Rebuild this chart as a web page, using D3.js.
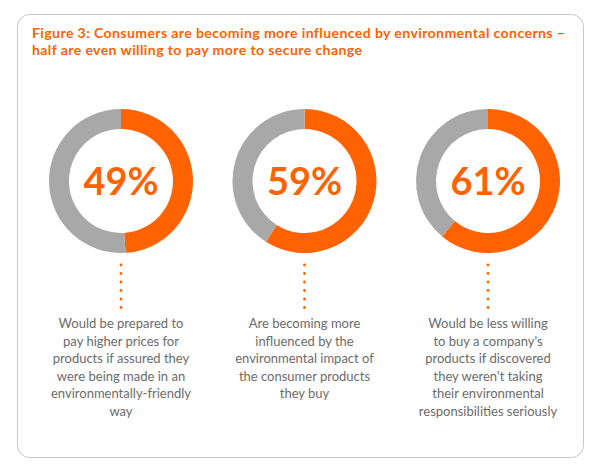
<!DOCTYPE html>
<html><head><meta charset="utf-8">
<script src="https://cdn.jsdelivr.net/npm/d3@7"></script>
<style>body{margin:0;background:#fff}svg{display:block}</style>
</head><body><svg id="c" width="600" height="473"></svg>
<script>
const titleLines = ["Figure 3: Consumers are becoming more influenced by environmental concerns –",
  "half are even willing to pay more to secure change"];
const categories = ["pay more", "influenced", "less willing"];
const values = [49, 59, 61];
const descriptions = [
  ["Would be prepared to", "pay higher prices for", "products if assured they", "were being made in an", "environmentally-friendly", "way"],
  ["Are becoming more", "influenced by the", "environmental impact of", "the consumer products", "they buy"],
  ["Would be less willing", "to buy a company's", "products if discovered", "they weren't taking", "their environmental", "responsibilities seriously"]
];

const orange = "#ff6200", grey = "#a8a8a8", textGrey = "#6b6b6b";
const svg = d3.select("#c");
const font = "Lato, 'Noto Sans', sans-serif";

svg.append("rect").attr("x", 17.5).attr("y", 14.5).attr("width", 566).attr("height", 443)
  .attr("rx", 12).attr("fill", "#fff").attr("stroke", "#c8c8c8").attr("stroke-width", 1);

// title
const tl = svg.append("g");
titleLines.forEach((t, i) => {
  tl.append("text").attr("x", 32).attr("y", 37.5 + i * 17).text(t)
    .attr("font-family", font).attr("font-weight", 700).attr("font-size", 14.1)
    .attr("letter-spacing", 0.38).attr("fill", orange);
});

const x = d3.scalePoint().domain(categories).range([121, 488]);
const cy = 181, rOuter = 72, rInner = 52;
const pie = d3.pie().sort(null).value(d => d);
const arc = d3.arc().innerRadius(rInner).outerRadius(rOuter);

categories.forEach((c, i) => {
  const g = svg.append("g").attr("transform", `translate(${x(c)},${cy})`);
  g.selectAll("path").data(pie([values[i], 100 - values[i]])).join("path")
    .attr("d", arc).attr("fill", (d, j) => j === 0 ? orange : grey);
  g.append("text").attr("y", 13.5).attr("text-anchor", "middle")
    .attr("font-family", font).attr("font-weight", 700).attr("font-size", 38)
    .attr("fill", orange).text(values[i] + "%");
  const dy = d3.range(6).map(k => 265 + k * 8.5);
  svg.append("g").selectAll("circle").data(dy).join("circle")
    .attr("cx", x(c)).attr("cy", d => d).attr("r", 1.4).attr("fill", orange);
  const t = svg.append("text").attr("text-anchor", "middle")
    .attr("font-family", font).attr("font-size", 13).attr("fill", textGrey);
  descriptions[i].forEach((line, k) => {
    t.append("tspan").attr("x", x(c)).attr("y", 328 + k * 17.5).text(line);
  });
});
</script></body></html>
